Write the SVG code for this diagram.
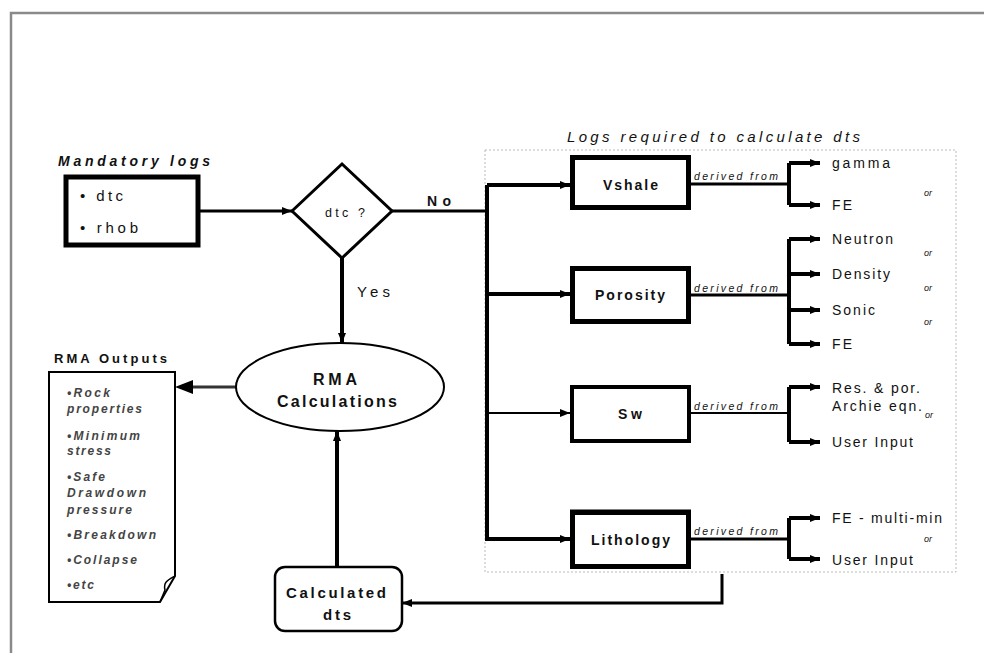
<svg xmlns="http://www.w3.org/2000/svg" width="984" height="653" viewBox="0 0 984 653">
<defs>
<style>
text{font-family:"Liberation Sans",Arial,sans-serif;fill:#111}
.lbl{font-size:14px;font-weight:bold}
.opt{font-size:14px}
.der{font-size:10.5px;font-style:italic}
.or{font-size:9px;font-style:italic}
.item{font-size:12px;font-style:italic;font-weight:bold;fill:#444}
.box{fill:#fff;stroke:#000;stroke-width:5}
.ln{fill:none;stroke:#000;stroke-width:4}
.ln3{fill:none;stroke:#000;stroke-width:3}
.ln2{fill:none;stroke:#000;stroke-width:2}
</style>
<marker id="ah" viewBox="0 0 10 8" refX="10" refY="4" markerWidth="10" markerHeight="8" markerUnits="userSpaceOnUse" orient="auto">
<path d="M0,0 L10,4 L0,8 z" fill="#000"/>
</marker>
</defs>
<rect width="984" height="653" fill="#fff"/>
<path d="M11,653 V13 H984" fill="none" stroke="#8a8a8a" stroke-width="2.5"/>

<g id="logs-required-frame">
<rect x="485" y="150" width="471" height="422" fill="none" stroke="#bbb" stroke-width="1" stroke-dasharray="2 2"/>
<text x="567" y="142" font-size="15" font-style="italic" textLength="293" lengthAdjust="spacing">Logs required to calculate dts</text>
</g>

<g id="connectors">
<path class="ln3" d="M200,211 H292" marker-end="url(#ah)"/>
<path class="ln3" d="M392,211 H487"/>
<path class="ln" d="M487,185 V541"/>
<path class="ln" d="M487,185 H570" marker-end="url(#ah)"/>
<path class="ln" d="M487,294 H570" marker-end="url(#ah)"/>
<path class="ln2" d="M487,413 H570" marker-end="url(#ah)"/>
<path class="ln" d="M487,539 H570" marker-end="url(#ah)"/>
<path class="ln" d="M342,258 V343" marker-end="url(#ah)"/>
<path class="ln" d="M337,567 V431" marker-end="url(#ah)"/>
<path class="ln3" d="M722,574 V603 H402" marker-end="url(#ah)"/>
<path d="M236,387 H190" fill="none" stroke="#333" stroke-width="3"/>
<polygon points="175,387 193,380 193,394" fill="#000"/>
<path class="ln3" d="M691,184 H789"/>
<path class="ln" d="M789,163 V205"/>
<path class="ln" d="M789,163 H820" marker-end="url(#ah)"/>
<path class="ln" d="M789,205 H820" marker-end="url(#ah)"/>
<path class="ln3" d="M691,295 H789"/>
<path class="ln" d="M789,239 V344"/>
<path class="ln" d="M789,239 H820" marker-end="url(#ah)"/>
<path class="ln" d="M789,274 H820" marker-end="url(#ah)"/>
<path class="ln" d="M789,310 H820" marker-end="url(#ah)"/>
<path class="ln" d="M789,344 H820" marker-end="url(#ah)"/>
<path class="ln2" d="M691,413 H789"/>
<path class="ln" d="M789,387 V442"/>
<path class="ln" d="M789,387 H820" marker-end="url(#ah)"/>
<path class="ln" d="M789,442 H820" marker-end="url(#ah)"/>
<path class="ln3" d="M691,539 H789"/>
<path class="ln" d="M789,518 V559"/>
<path class="ln" d="M789,518 H820" marker-end="url(#ah)"/>
<path class="ln" d="M789,559 H820" marker-end="url(#ah)"/>
<text x="427" y="206" font-size="14" font-weight="bold" textLength="24" lengthAdjust="spacing">No</text>
<text x="357" y="297" font-size="15" textLength="33" lengthAdjust="spacing">Yes</text>
<text class="der" x="694" y="180" textLength="84" lengthAdjust="spacing">derived from</text>
<text class="der" x="694" y="292" textLength="84" lengthAdjust="spacing">derived from</text>
<text class="der" x="694" y="410" textLength="84" lengthAdjust="spacing">derived from</text>
<text class="der" x="694" y="535" textLength="84" lengthAdjust="spacing">derived from</text>
</g>

<g id="mandatory-logs">
<text x="58" y="166" font-size="14" font-style="italic" font-weight="bold" textLength="152" lengthAdjust="spacing">Mandatory logs</text>
<rect x="66" y="177" width="132" height="68" fill="#fff" stroke="#000" stroke-width="5"/>
<text x="80" y="201" font-size="15" textLength="43" lengthAdjust="spacing">• dtc</text>
<text x="80" y="233" font-size="15" textLength="58" lengthAdjust="spacing">• rhob</text>
</g>

<g id="decision-dtc">
<polygon points="292,211 342,164 392,211 342,258" fill="#fff" stroke="#000" stroke-width="3"/>
<text x="325" y="217" font-size="12.5" textLength="40" lengthAdjust="spacing">dtc ?</text>
</g>

<g id="rma-calculations">
<ellipse cx="340" cy="387" rx="104" ry="44" fill="#fff" stroke="#000" stroke-width="2"/>
<text x="313" y="385" font-size="16" font-weight="bold" textLength="44" lengthAdjust="spacing">RMA</text>
<text x="277" y="407" font-size="16" font-weight="bold" textLength="120" lengthAdjust="spacing">Calculations</text>
</g>

<g id="rma-outputs">
<text x="54" y="363" font-size="13" font-weight="bold" textLength="113" lengthAdjust="spacing">RMA Outputs</text>
<path d="M49,372 H175 V576 L160,602 H49 Z" fill="#fff" stroke="#000" stroke-width="2"/>
<path d="M175,576 C168,580 163,582 165,590 L160,602" fill="none" stroke="#000" stroke-width="1.5"/>
<text class="item" x="67" y="397" textLength="43" lengthAdjust="spacing">•Rock</text>
<text class="item" x="67" y="413" textLength="75" lengthAdjust="spacing">properties</text>
<text class="item" x="67" y="440" textLength="73" lengthAdjust="spacing">•Minimum</text>
<text class="item" x="67" y="455" textLength="44" lengthAdjust="spacing">stress</text>
<text class="item" x="67" y="481" textLength="38" lengthAdjust="spacing">•Safe</text>
<text class="item" x="67" y="497" textLength="79" lengthAdjust="spacing">Drawdown</text>
<text class="item" x="67" y="514" textLength="65" lengthAdjust="spacing">pressure</text>
<text class="item" x="67" y="539" textLength="89" lengthAdjust="spacing">•Breakdown</text>
<text class="item" x="67" y="564" textLength="70" lengthAdjust="spacing">•Collapse</text>
<text class="item" x="67" y="589" textLength="27" lengthAdjust="spacing">•etc</text>
</g>

<g id="calculated-dts">
<rect x="275" y="567" width="127" height="64" rx="10" fill="#fff" stroke="#000" stroke-width="2.5"/>
<text x="286" y="598" font-size="15" font-weight="bold" textLength="100" lengthAdjust="spacing">Calculated</text>
<text x="323" y="620" font-size="15" font-weight="bold" textLength="28" lengthAdjust="spacing">dts</text>
</g>

<g id="vshale">
<rect class="box" x="572.5" y="157.5" width="116" height="50"/>
<text class="lbl" x="603" y="190" textLength="55" lengthAdjust="spacing">Vshale</text>
<text class="opt" x="832" y="168" textLength="58" lengthAdjust="spacing">gamma</text>
<text class="opt" x="832" y="210" textLength="20" lengthAdjust="spacing">FE</text>
<text class="or" x="924" y="196">or</text>
</g>

<g id="porosity">
<rect class="box" x="572.5" y="268.5" width="116" height="53"/>
<text class="lbl" x="595" y="300" textLength="70" lengthAdjust="spacing">Porosity</text>
<text class="opt" x="832" y="244" textLength="61" lengthAdjust="spacing">Neutron</text>
<text class="opt" x="832" y="279" textLength="58" lengthAdjust="spacing">Density</text>
<text class="opt" x="832" y="315" textLength="43" lengthAdjust="spacing">Sonic</text>
<text class="opt" x="832" y="349" textLength="20" lengthAdjust="spacing">FE</text>
<text class="or" x="924" y="256">or</text>
<text class="or" x="924" y="291">or</text>
<text class="or" x="924" y="325">or</text>
</g>

<g id="sw">
<rect x="572" y="387" width="117" height="54" fill="#fff" stroke="#000" stroke-width="4"/>
<text class="lbl" x="618" y="419" textLength="24" lengthAdjust="spacing">Sw</text>
<text class="opt" x="832" y="393" textLength="88" lengthAdjust="spacing">Res. &amp; por.</text>
<text class="opt" x="832" y="411" textLength="90" lengthAdjust="spacing">Archie eqn.</text>
<text class="or" x="925" y="418">or</text>
<text class="opt" x="832" y="447" textLength="81" lengthAdjust="spacing">User Input</text>
</g>

<g id="lithology">
<rect class="box" x="572.5" y="512.5" width="116" height="54"/>
<line x1="570" y1="512" x2="691" y2="512" stroke="#000" stroke-width="5"/>
<text class="lbl" x="591" y="545" textLength="79" lengthAdjust="spacing">Lithology</text>
<text class="opt" x="832" y="523" textLength="110" lengthAdjust="spacing">FE - multi-min</text>
<text class="or" x="924" y="542">or</text>
<text class="opt" x="832" y="565" textLength="81" lengthAdjust="spacing">User Input</text>
</g>
</svg>
